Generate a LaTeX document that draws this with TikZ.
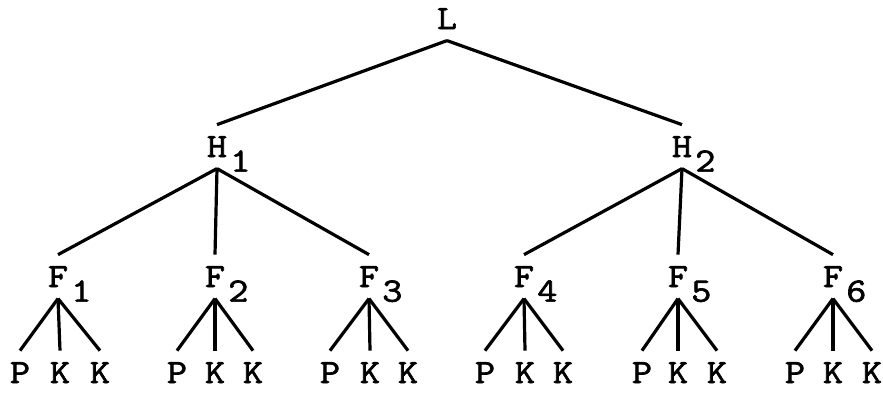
\documentclass[tikz,border=0pt]{standalone}
\usepackage{fontspec}
\newfontfamily\typer{Latin Modern Mono}[FakeBold=2, FakeStretch=1.15]
\usepackage{tikz}

\begin{document}
\begin{tikzpicture}[x=1pt, y=-1pt, line width=3.2pt,
    every node/.style={anchor=base, inner xsep=0pt, inner ysep=10pt, font=\typer\fontsize{34}{36}\selectfont},
    digit/.style={anchor=base west, inner sep=0pt, yshift=-25pt}]
    \useasboundingbox (0,0) rectangle (883,392);

    \node (L) at (447,29) {L};
    \node[label={[digit]east:1}] (H1) at (217,157) {H};
    \node[label={[digit]east:2}] (H2) at (682,157) {H};

    \foreach \i/\x in {1/58, 2/215, 3/369, 4/524, 5/678, 6/833}
        \node[label={[digit]east:\i}] (F\i) at (\x,287) {F};

    % leaves under each F
    \foreach \i/\p/\ka/\kb in {1/20/60/100, 2/177/215/253, 3/330/370/408,
                               4/485/525/563, 5/642/678/717, 6/795/833/872} {
        \node (P\i) at (\p,383) {P};
        \node (Ka\i) at (\ka,383) {K};
        \node (Kb\i) at (\kb,383) {K};
        \foreach \to in {P\i, Ka\i, Kb\i}
            \draw (F\i.south) -- (\to.north);
    }

    \foreach \from/\to in {L/H1, L/H2, H1/F1, H1/F2, H1/F3, H2/F4, H2/F5, H2/F6}
        \draw (\from.south) -- (\to.north);
\end{tikzpicture}
\end{document}
